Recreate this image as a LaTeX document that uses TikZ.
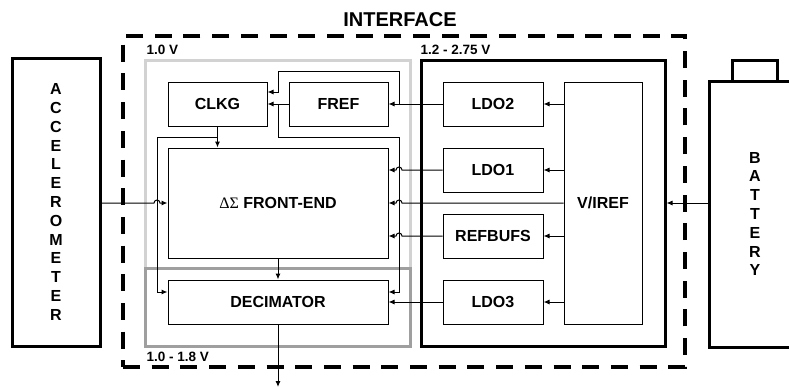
\documentclass[tikz,border=0pt]{standalone}
\usepackage{fontspec}
\setmainfont{Liberation Sans}
\newfontfamily\greekfont{Liberation Serif}
\usetikzlibrary{arrows.meta, positioning, backgrounds, fit}

\begin{document}
\begin{tikzpicture}[
    x=1pt, y=-1pt,
    node distance=21pt,
    block/.style={draw, line width=1pt, inner sep=0pt, minimum height=44pt, font=\bfseries\fontsize{16}{19}\selectfont},
    device/.style={draw, line width=3pt, inner sep=0pt, outer sep=0pt, align=center, font=\bfseries\fontsize{16}{18.8}\selectfont},
    zone/.style={line width=3pt, inner sep=0pt},
    tag/.style={font=\bfseries\fontsize{13.5}{16}\selectfont, inner sep=0pt},
    wire/.style={line width=1pt},
    arrow/.style={wire, -{Latex[length=6pt, width=5pt]}}
]
\useasboundingbox (0,0) rectangle (789,389);
\clip (0,0) rectangle (789,389);

% Sensor and supply
\node[device, minimum width=88pt, minimum height=288pt] (acc) at (56,202) {A\\C\\C\\E\\L\\E\\R\\O\\M\\E\\T\\E\\R};
\node[device, minimum width=92pt, minimum height=266pt] (battery) at (755,214) {B\\A\\T\\T\\E\\R\\Y};
\node[device, minimum width=45pt, minimum height=21pt, above=0pt of battery] (terminal) {};

% Core blocks
\node[block, minimum width=99pt] (clkg) at (217.5,104) {CLKG};
\node[block, minimum width=99pt, right=21pt of clkg] (fref) {FREF};
\node[block, minimum width=220pt, minimum height=110pt, below=21pt of clkg.south west, anchor=north west] (fe) {{\greekfont\mdseries ΔΣ}~FRONT-END};
\node[block, minimum width=220pt, below=21pt of fe] (dec) {DECIMATOR};

% Power management blocks
\node[block, minimum width=100pt] (ldo2) at (493,104) {LDO2};
\node[block, minimum width=100pt, below=of ldo2] (ldo1) {LDO1};
\node[block, minimum width=100pt, below=of ldo1] (refbufs) {REFBUFS};
\node[block, minimum width=100pt, below=of refbufs] (ldo3) {LDO3};
\node[block, minimum width=78pt, minimum height=242pt] (viref) at (603,203) {V/IREF};

% Supply domains
\begin{scope}[on background layer]
\node[zone, draw=gray!35, fit={(145,60) (410,268)}, label={[tag, anchor=south west, xshift=3pt, yshift=4pt]north west:1.0 V}] (core) {};
\node[zone, draw=gray!75, fit={(145,268) (410,346)}, label={[tag, anchor=north west, xshift=3pt, yshift=-4pt]south west:1.0 - 1.8 V}] (digital) {};
\node[zone, draw=black, fit={(421,60) (665,346)}, label={[tag, anchor=south west, xshift=1pt, yshift=4pt]north west:1.2 - 2.75 V}] (power) {};
\node[zone, line width=3.5pt, dash pattern=on 17pt off 11.7pt, draw=black, fit={(123,36) (685,367)}, label={[font=\bfseries\fontsize{20}{24}\selectfont, inner sep=0pt, label distance=7pt, xshift=-4pt]above:INTERFACE}] (iface) {};
\end{scope}

% Clock and signal routing
\coordinate (lbus) at (157,137);
\coordinate (rbus) at (399,137);
\coordinate (ftop) at (278,71);
\coordinate (out) at (278,387);

\draw[arrow] (acc.east |- fe.west) -- ([xshift=-3pt]lbus |- fe.west) arc (180:0:3pt) -- (fe.west);
\draw[arrow] (clkg.south) -- (clkg.south |- fe.north);
\draw[arrow] (clkg.south |- lbus) -- (lbus) |- ([yshift=10pt]dec.west);

\draw[arrow] (ldo2) -- (fref);
\draw[arrow] (rbus |- fref.east) -- (rbus |- ftop) -- (ftop) |- ([yshift=12pt]clkg.east);
\draw[arrow] (fref) -- (clkg);
\draw[arrow] (ftop |- fref.west) -- (ftop |- rbus) -- (rbus) |- ([yshift=10pt]dec.east);

\foreach \src in {ldo1, viref, refbufs}
  \draw[arrow] (\src.west) -- ([xshift=3pt]rbus |- \src.west) arc (0:180:3pt) -- (fe.east |- \src.west);
\draw[arrow] (ldo3) -- (dec);

% Regulator feeds
\foreach \dst in {ldo2, ldo1, refbufs, ldo3}
  \draw[arrow] (viref.west |- \dst.east) -- (\dst.east);
\draw[arrow] (battery.west |- viref) -- (power.east |- viref);

\draw[arrow] (fe) -- (dec);
\draw[arrow] (dec) -- (out);

\end{tikzpicture}
\end{document}
